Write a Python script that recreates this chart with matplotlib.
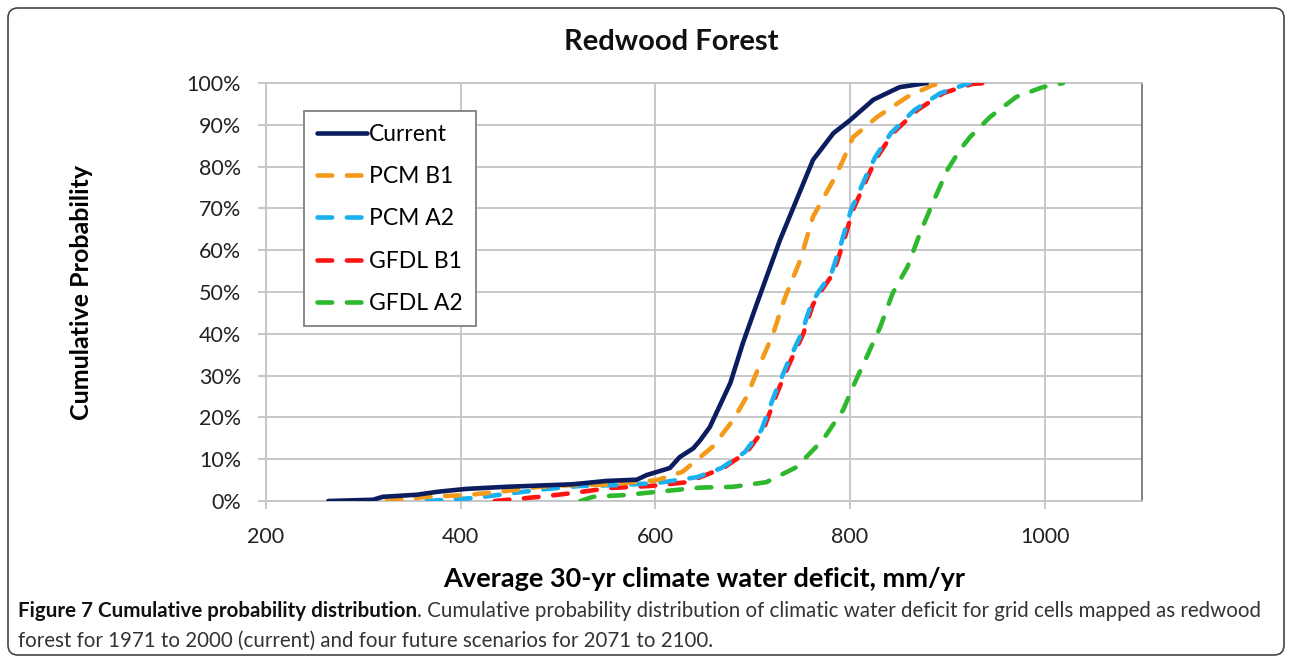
import matplotlib
matplotlib.use('Agg')
import matplotlib.pyplot as plt
from matplotlib import font_manager
from matplotlib.patches import FancyBboxPatch

# values (x = deficit mm/yr, y = cumulative %)
current_x = [264, 310, 320, 355, 376, 406, 447, 515, 550, 581, 591, 615, 625, 639, 646, 656, 677, 690, 704,
             728, 745, 762, 783, 800, 824, 851, 879]
current_y = [0, 0.3, 1, 1.5, 2.2, 2.9, 3.4, 4, 4.8, 5.1, 6.2, 7.9, 10.5, 12.6, 14.5, 17.7, 28.2, 37.8, 47,
             62.4, 72, 81.6, 88, 91.1, 96, 99, 100]
pcmb1_x = [324, 365, 406, 447, 481, 515, 550, 602, 628, 659, 680, 694, 708, 721, 733, 749, 762, 783, 793,
           803, 828, 859, 885, 900]
pcmb1_y = [0, 1, 1.4, 2.4, 3.4, 3.8, 3.9, 5, 7, 13, 19.4, 25, 33, 40, 48.5, 57.7, 68, 76.8, 81.6,
           87, 91.9, 96.7, 99.5, 100]
pcma2_x = [365, 413, 454, 489, 523, 561, 602, 643, 668, 692, 709, 723, 736, 750, 760, 767, 781, 791, 801,
           818, 826, 842, 866, 893, 923]
pcma2_y = [0, 0.7, 1.9, 2.9, 3.6, 3.8, 4.3, 5.7, 7.9, 11.7, 17, 25.8, 33, 40, 47, 49.8, 54.5, 61.7, 69.6,
           78.5, 82.3, 88, 93.5, 97.6, 100]
gfdlb1_x = [435, 481, 515, 553, 595, 633, 670, 694, 711, 725, 738, 752, 762, 769, 783, 793, 803, 820, 828,
            844, 869, 896, 926, 942]
gfdlb1_y = [0, 1, 1.9, 3.1, 3.6, 4.5, 7.9, 11.7, 17, 25.8, 33, 40, 47, 49.8, 54.5, 61.7, 69.6, 78.5, 82.3,
            88, 93.5, 97.6, 99.8, 100]
gfdla2_x = [523, 536, 567, 602, 646, 680, 714, 745, 772, 793, 803, 817, 831, 844, 859, 872, 885, 900, 913,
            923, 944, 971, 998, 1019]
gfdla2_y = [0, 1, 1.4, 2.2, 3.2, 3.4, 4.5, 8.1, 14.6, 21.8, 27.3, 34.4, 41.6, 49.8, 56, 64.1, 71.3, 79.2, 84,
            87, 91.9, 96.7, 99, 100]

labels = ['Current', 'PCM B1', 'PCM A2', 'GFDL B1', 'GFDL A2']
colors = ['#0b1d5e', '#f39a1b', '#1ab0ee', '#ff1414', '#2eb82e']
xticks = [200, 400, 600, 800, 1000]
yticks = [0, 10, 20, 30, 40, 50, 60, 70, 80, 90, 100]

installed = {f.name for f in font_manager.fontManager.ttflist}
chart_font = 'Lato' if 'Lato' in installed else 'DejaVu Sans'
plt.rcParams['font.family'] = [chart_font, 'DejaVu Sans']

fig = plt.figure(figsize=(12.92, 6.62), dpi=100)
ax = fig.add_axes([266 / 1292, 1 - 501 / 662, 876 / 1292, 418 / 662])

series = [(current_x, current_y), (pcmb1_x, pcmb1_y), (pcma2_x, pcma2_y),
          (gfdlb1_x, gfdlb1_y), (gfdla2_x, gfdla2_y)]
for i, (xs, ys) in enumerate(series):
    if i == 0:
        ax.plot(xs, ys, color=colors[i], lw=3.3, label=labels[i], solid_capstyle='round', zorder=6)
    else:
        ax.plot(xs, ys, color=colors[i], lw=3.3, label=labels[i], dashes=(3.2, 3.2),
                dash_capstyle='round', zorder=5 - i * 0.1)

ax.set_xlim(200, 1100)
ax.set_ylim(0, 100)
ax.set_xticks(xticks)
ax.set_yticks(yticks)
ax.set_yticklabels([f'{v}%' for v in yticks])
ax.grid(True, color='#c4c4c4', lw=1.3)
ax.set_axisbelow(True)
ax.tick_params(axis='both', length=6, width=1.3, color='#c4c4c4', labelsize=15.5, labelcolor='#222222')
ax.tick_params(axis='x', pad=13)
ax.tick_params(axis='y', pad=12)
for s in ['left', 'bottom', 'top']:
    ax.spines[s].set_color('#c4c4c4')
    ax.spines[s].set_linewidth(1.3)
ax.spines['right'].set_color('#7a7a7a')
ax.spines['right'].set_linewidth(1.3)

fig.text(671 / 1292, 1 - 42 / 662, 'Redwood Forest', fontsize=21, fontweight='bold',
         ha='center', va='center', color='#111111')
ax.set_xlabel('Average 30-yr climate water deficit, mm/yr', fontsize=19.5, fontweight='bold', labelpad=14)
ax.set_ylabel('Cumulative Probability', fontsize=18, fontweight='bold', labelpad=67)

leg = ax.legend(loc='upper left', bbox_to_anchor=((304 - 266) / 876, (501 - 111) / 418), borderaxespad=0,
                fontsize=16.5, handlelength=2.2, handletextpad=0.1, labelspacing=0.93, fancybox=False,
                framealpha=1, edgecolor='#808080', borderpad=0.55)
leg.get_frame().set_linewidth(1.3)

# outer rounded border (pixel coords)
box = FancyBboxPatch((8, 7), 1276, 647, boxstyle='round,pad=0,rounding_size=10',
                     transform=None, fill=False, edgecolor='#444444', lw=1.2)
fig.add_artist(box)

# caption
t1 = fig.text(18 / 1292, 1 - 611 / 662, 'Figure 7 Cumulative probability distribution', fontsize=14.8,
              fontweight='bold', va='center', color='#111111')
fig.canvas.draw()
bb = t1.get_window_extent()
fig.text(bb.x1 / 1292, 1 - 611 / 662,
         '. Cumulative probability distribution of climatic water deficit for grid cells mapped as redwood',
         fontsize=14.8, va='center', color='#333333')
fig.text(18 / 1292, 1 - 641 / 662,
         'forest for 1971 to 2000 (current) and four future scenarios for 2071 to 2100.',
         fontsize=14.8, va='center', color='#333333')

fig.savefig('out.png', dpi=100)
